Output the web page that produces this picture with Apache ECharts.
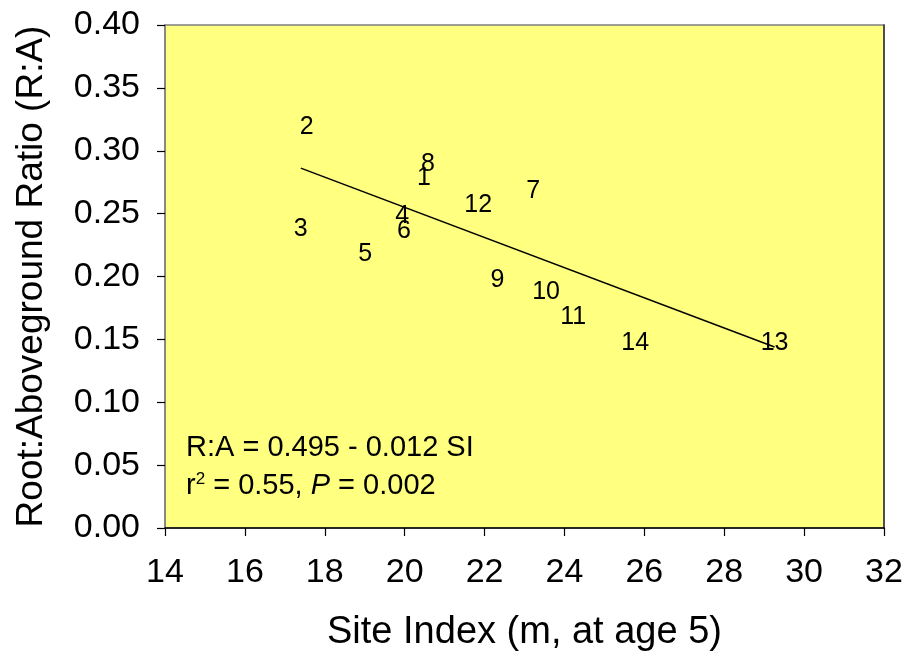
<!DOCTYPE html>
<html>
<head>
<meta charset="utf-8">
<script src="https://cdn.jsdelivr.net/npm/echarts@6/dist/echarts.min.js"></script>
<style>
  html, body { margin: 0; padding: 0; background: #ffffff; }
  #chart { width: 907px; height: 654px; }
</style>
</head>
<body>
<div id="chart"></div>
<script>
// Stand numbers, site index (m at age 5) and root:aboveground ratio per stand
const standIds = ['1', '2', '3', '4', '5', '6', '7', '8', '9', '10', '11', '12', '13', '14'];
const siteIndex = [20.48, 17.55, 17.40, 19.94, 19.01, 19.98, 23.22, 20.58, 22.32, 23.54, 24.22, 21.84, 29.26, 25.77];
const rootRatio = [0.2785, 0.3185, 0.2375, 0.248, 0.2175, 0.236, 0.268, 0.289, 0.197, 0.1875, 0.168, 0.257, 0.147, 0.147];

// Fitted regression: R:A = 0.495 - 0.012 SI
const fitIntercept = 0.495;
const fitSlope = -0.012;

const xTicks = { min: 14, max: 32, step: 2 };
const yTicks = { min: 0, max: 0.40, step: 0.05 };

const FONT = "'Liberation Sans', Arial, sans-serif";

const pointData = siteIndex.map((x, i) => [x, rootRatio[i], standIds[i]]);
const siMin = Math.min(...siteIndex);
const siMax = Math.max(...siteIndex);
const fitLine = [siMin, siMax].map(x => [x, fitIntercept + fitSlope * x]);

const chart = echarts.init(document.getElementById('chart'), null, { renderer: 'canvas' });

const tickStyle = { color: '#000', fontSize: 34, fontFamily: FONT };

chart.setOption({
  animation: false,
  backgroundColor: '#ffffff',
  grid: {
    left: 165, right: 23, top: 25, bottom: 126,
    outerBoundsMode: 'none',
    containLabel: false,
    show: true,
    backgroundColor: '#FFFF80',
    borderColor: '#808080',
    borderWidth: 1.5
  },
  xAxis: {
    type: 'value',
    min: xTicks.min, max: xTicks.max, interval: xTicks.step,
    name: 'Site Index (m, at age 5)',
    nameLocation: 'middle',
    nameGap: 86,
    nameTextStyle: { color: '#000', fontSize: 38, fontFamily: FONT },
    axisLine: { onZero: false, lineStyle: { color: '#000', width: 1.5 } },
    axisTick: { show: true, inside: false, length: 8, lineStyle: { color: '#000', width: 1.2 } },
    axisLabel: Object.assign({ margin: 28 }, tickStyle),
    splitLine: { show: false }
  },
  yAxis: [{
    type: 'value',
    min: yTicks.min, max: yTicks.max, interval: yTicks.step,
    name: 'Root:Aboveground Ratio (R:A)',
    nameLocation: 'middle',
    nameGap: 115,
    nameTextStyle: { color: '#000', fontSize: 37, fontFamily: FONT },
    axisLine: { onZero: false, lineStyle: { color: '#808080', width: 1.5 } },
    axisTick: { show: true, inside: false, length: 8, lineStyle: { color: '#000', width: 1.2 } },
    axisLabel: Object.assign({ margin: 25, formatter: v => v.toFixed(2) }, tickStyle),
    splitLine: { show: false }
  }, {
    type: 'value',
    position: 'right',
    min: yTicks.min, max: yTicks.max, interval: yTicks.step,
    axisLine: { show: true, onZero: false, lineStyle: { color: '#333', width: 1.5 } },
    axisTick: { show: false },
    axisLabel: { show: false },
    splitLine: { show: false }
  }],
  graphic: [{
    type: 'text',
    left: 186,
    top: 429,
    z: 100,
    style: {
      text: 'R:A = 0.495 - 0.012 SI\n{r|r}{sup|2}{r| = 0.55, }{i|P}{r| = 0.002}',
      fill: '#000',
      font: '29px ' + FONT,
      lineHeight: 38,
      rich: {
        r: { fontSize: 29, fontFamily: FONT, lineHeight: 38, fill: '#000' },
        i: { fontSize: 29, fontFamily: FONT, fontStyle: 'italic', lineHeight: 38, fill: '#000' },
        sup: { fontSize: 17, fontFamily: FONT, lineHeight: 17, verticalAlign: 'top', padding: [4, 0, 0, 0], fill: '#000' }
      }
    }
  }],
  series: [{
    type: 'line',
    data: fitLine,
    showSymbol: false,
    symbol: 'none',
    lineStyle: { color: '#000', width: 1.5 },
    silent: true,
    z: 2
  }, {
    type: 'scatter',
    data: pointData,
    symbolSize: 0,
    itemStyle: { color: '#000' },
    label: {
      show: true,
      position: [0, 0],
      align: 'center',
      verticalAlign: 'middle',
      formatter: p => p.value[2],
      color: '#000',
      opacity: 1,
      fontSize: 25,
      fontFamily: FONT
    },
    z: 3
  }]
});
</script>
</body>
</html>
